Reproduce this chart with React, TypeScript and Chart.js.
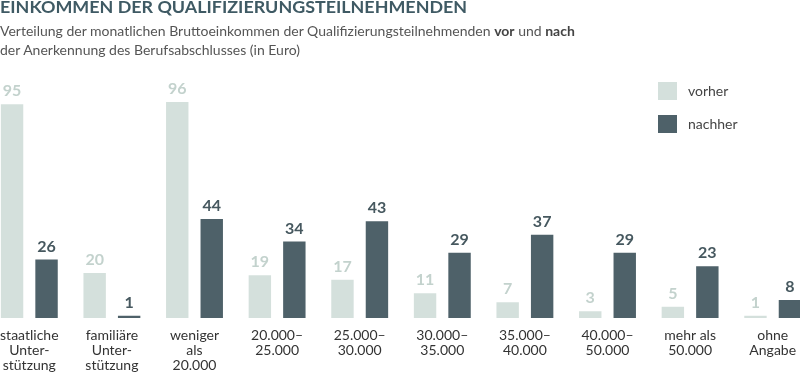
import React, { useEffect, useRef } from "react";
import { Chart, registerables } from "chart.js";

Chart.register(...registerables);

const categories: string[][] = [
  ["staatliche", "Unter-", "stützung"],
  ["familiäre", "Unter-", "stützung"],
  ["weniger", "als", "20.000"],
  ["20.000–", "25.000"],
  ["25.000–", "30.000"],
  ["30.000–", "35.000"],
  ["35.000–", "40.000"],
  ["40.000–", "50.000"],
  ["mehr als", "50.000"],
  ["ohne", "Angabe"],
];
const vorher: number[] = [95, 20, 96, 19, 17, 11, 7, 3, 5, 1];
const nachher: number[] = [26, 1, 44, 34, 43, 29, 37, 29, 23, 8];
const seriesNames: string[] = ["vorher", "nachher"];

const TITLE = "EINKOMMEN DER QUALIFIZIERUNGSTEILNEHMENDEN";

const C_VOR = "#d4e0dc";
const C_VOR_LABEL = "#c3d2cd";
const C_NACH = "#4e6169";
const C_NACH_LABEL = "#46585f";
const FONT = "Lato";

const valueLabels = {
  id: "valueLabels",
  afterDatasetsDraw(chart: any) {
    const ctx = chart.ctx;
    ctx.save();
    ctx.font = `bold 16px ${FONT}`;
    ctx.textAlign = "center";
    ctx.textBaseline = "alphabetic";
    chart.data.datasets.forEach((ds: any, di: number) => {
      const meta = chart.getDatasetMeta(di);
      ctx.fillStyle = di === 0 ? C_VOR_LABEL : C_NACH_LABEL;
      meta.data.forEach((el: any, i: number) => {
        ctx.fillText(String(ds.data[i]), el.x, el.y - 8);
      });
    });
    ctx.restore();
  },
};

export default function App() {
  const ref = useRef<HTMLCanvasElement | null>(null);
  useEffect(() => {
    if (!ref.current) return;
    const chart = new Chart(ref.current, {
      type: "bar",
      data: {
        labels: categories,
        datasets: [
          { label: seriesNames[0], data: vorher, backgroundColor: C_VOR },
          { label: seriesNames[1], data: nachher, backgroundColor: C_NACH },
        ],
      },
      options: {
        responsive: false,
        animation: false,
        devicePixelRatio: 1,
        layout: { padding: { top: 93, left: 0, right: 0, bottom: 0 } },
        datasets: { bar: { categoryPercentage: 0.835, barPercentage: 0.65 } },
        plugins: {
          legend: { display: false },
          tooltip: { enabled: false },
          title: { display: false },
        },
        scales: {
          y: { display: false, min: 0, max: 100 },
          x: {
            grid: { display: false, drawTicks: false },
            border: { display: false },
            ticks: {
              color: "#333",
              font: { family: FONT, size: 14, lineHeight: 1.07 },
              padding: 10,
              maxRotation: 0,
              autoSkip: false,
            },
            afterFit(scale: any) {
              scale.height = 57;
            },
          },
        },
      },
      plugins: [valueLabels],
    });
    return () => chart.destroy();
  }, []);

  const legendItem = (name: string, color: string, top: number) => (
    <div style={{ position: "absolute", left: 658, top, height: 18, display: "flex", alignItems: "center" }}>
      <div style={{ width: 19, height: 18, background: color }} />
      <span style={{ marginLeft: 11, fontFamily: FONT, fontSize: 14, color: "#444", lineHeight: "18px" }}>{name}</span>
    </div>
  );

  return (
    <div style={{ position: "absolute", left: 0, top: 0, width: 800, height: 375, overflow: "hidden", background: "#fff" }}>
      <div style={{ position: "absolute", left: -12, top: 0, width: 826, height: 375 }}>
        <canvas ref={ref} width={826} height={375} style={{ width: 826, height: 375, display: "block" }} />
      </div>
      <div style={{ position: "absolute", left: 0, top: -4, fontFamily: FONT, fontWeight: 700, fontSize: 17.9, lineHeight: "20px", color: "#3f5a64", whiteSpace: "nowrap" }}>
        {TITLE}
      </div>
      <div style={{ position: "absolute", left: 0, top: 21, fontFamily: FONT, fontSize: 14, lineHeight: "19px", color: "#555", whiteSpace: "nowrap" }}>
        Verteilung der monatlichen Bruttoeinkommen der Qualifizierungsteilnehmenden <b style={{ color: "#444" }}>vor</b> und <b style={{ color: "#444" }}>nach</b>
        <br />
        der Anerkennung des Berufsabschlusses (in Euro)
      </div>
      {legendItem(seriesNames[0], C_VOR, 82)}
      {legendItem(seriesNames[1], C_NACH, 115)}
    </div>
  );
}
